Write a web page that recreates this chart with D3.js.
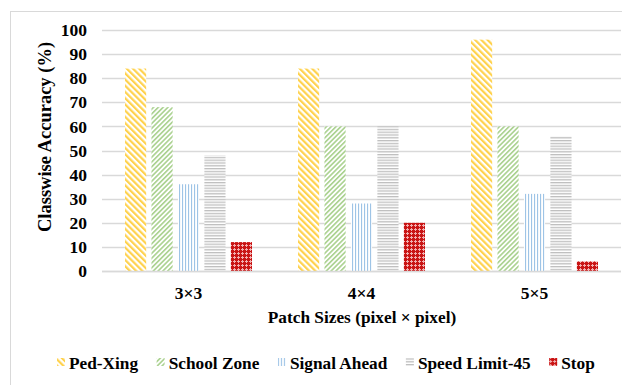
<!DOCTYPE html>
<html>
<head>
<meta charset="utf-8">
<script src="https://cdn.jsdelivr.net/npm/d3@7"></script>
<style>
  html, body { margin: 0; padding: 0; background: #fff; }
</style>
</head>
<body>
<svg id="chart" width="622" height="385"></svg>
<script>
// Patch sizes on the x axis
const categories = ["3×3", "4×4", "5×5"];
// Traffic-sign classes
const seriesNames = ["Ped-Xing", "School Zone", "Signal Ahead", "Speed Limit-45", "Stop"];
// Classwise accuracy (%) per patch size, one array per class
const pedXing = [84, 84, 96];
const schoolZone = [68, 60, 60];
const signalAhead = [36, 28, 32];
const speedLimit45 = [48, 60, 56];
const stop = [12, 20, 4];
const yTicks = [0, 10, 20, 30, 40, 50, 60, 70, 80, 90, 100];

const seriesValues = [pedXing, schoolZone, signalAhead, speedLimit45, stop];
const patternIds = ["p-ped", "p-school", "p-signal", "p-speed", "p-stop"];
const FONT = "'Liberation Serif', 'Times New Roman', serif";

const svg = d3.select("#chart")
  .attr("font-family", FONT).attr("font-weight", "bold");
const defs = svg.append("defs");

// Hatched fills for each class
function stripePattern(id, size, stripe, color, angle) {
  const p = defs.append("pattern")
    .attr("id", id).attr("patternUnits", "userSpaceOnUse")
    .attr("width", size).attr("height", size)
    .attr("patternTransform", `rotate(${angle})`);
  p.append("rect").attr("width", size).attr("height", size).attr("fill", "#fff");
  p.append("rect").attr("width", stripe).attr("height", size).attr("fill", color);
}
stripePattern("p-ped", 4.4, 2.2, "#FFD24D", -45);
stripePattern("p-school", 3.4, 1.6, "#A9D18E", 45);
stripePattern("p-signal", 3.0, 1.1, "#9DC3E6", 0);
stripePattern("p-speed", 2.8, 1.3, "#BFBFBF", 90);
(function () {
  const p = defs.append("pattern")
    .attr("id", "p-stop").attr("patternUnits", "userSpaceOnUse")
    .attr("width", 4).attr("height", 4);
  p.append("rect").attr("width", 4).attr("height", 4).attr("fill", "#C91414");
  p.append("rect").attr("x", 1).attr("y", 0).attr("width", 1).attr("height", 3).attr("fill", "#f2b0b0");
  p.append("rect").attr("x", 0).attr("y", 1).attr("width", 3).attr("height", 1).attr("fill", "#f2b0b0");
})();

// Chart frame
svg.append("rect")
  .attr("x", 10.5).attr("y", 11.5).attr("width", 700).attr("height", 500)
  .attr("fill", "none").attr("stroke", "#d9d9d9").attr("stroke-width", 1);

const plot = { left: 102, right: 621, top: 30, bottom: 271 };

const x0 = d3.scaleBand().domain(categories)
  .range([plot.left, plot.right]).paddingInner(0.266).paddingOuter(0.133);
const x1 = d3.scaleBand().domain(seriesNames)
  .range([0, x0.bandwidth()]).paddingInner(0.2).paddingOuter(0);
const y = d3.scaleLinear().domain([0, 100]).range([plot.bottom, plot.top]);

// Gridlines
svg.append("g").selectAll("line").data(yTicks).join("line")
  .attr("x1", plot.left).attr("x2", plot.right)
  .attr("y1", d => Math.round(y(d)) + 0.5).attr("y2", d => Math.round(y(d)) + 0.5)
  .attr("stroke", "#d9d9d9").attr("stroke-width", 1.3);

// Y axis labels
const yAxis = d3.axisLeft(y).tickValues(yTicks).tickSize(0).tickPadding(15);
const yg = svg.append("g").attr("transform", `translate(${plot.left},0)`).call(yAxis)
  .attr("font-family", FONT).attr("font-size", 17.5);
yg.select(".domain").remove();
yg.selectAll("text").attr("fill", "#000");

// Bars
const groups = svg.append("g").selectAll("g").data(categories).join("g")
  .attr("transform", d => `translate(${x0(d)},0)`);
groups.selectAll("rect")
  .data((c, ci) => seriesNames.map((s, si) => ({ s, si, v: seriesValues[si][ci] })))
  .join("rect")
  .attr("x", d => x1(d.s))
  .attr("y", d => y(d.v))
  .attr("width", x1.bandwidth())
  .attr("height", d => y(0) - y(d.v))
  .attr("fill", d => `url(#${patternIds[d.si]})`);

// Baseline
svg.append("line")
  .attr("x1", plot.left).attr("x2", plot.right)
  .attr("y1", y(0) + 0.5).attr("y2", y(0) + 0.5)
  .attr("stroke", "#d9d9d9").attr("stroke-width", 1.3);

// X axis labels
const xAxis = d3.axisBottom(x0).tickSize(0).tickPadding(16);
const xg = svg.append("g").attr("transform", `translate(0,${plot.bottom})`).call(xAxis)
  .attr("font-family", FONT).attr("font-size", 17.5);
xg.select(".domain").remove();
xg.selectAll("text").attr("fill", "#000");

// Axis titles
svg.append("text")
  .attr("x", 362).attr("y", 323)
  .attr("text-anchor", "middle").attr("font-size", 17.3)
  .text("Patch Sizes (pixel × pixel)");
svg.append("text")
  .attr("transform", "translate(51,137) rotate(-90)")
  .attr("text-anchor", "middle").attr("font-size", 18.5)
  .text("Classwise Accuracy (%)");

// Legend
const legend = svg.append("g");
let lx = 57;
seriesNames.forEach((name, i) => {
  const item = legend.append("g").attr("transform", `translate(${lx},0)`);
  item.append("rect").attr("x", 0).attr("y", 358).attr("width", 8).attr("height", 8)
    .attr("fill", `url(#${patternIds[i]})`);
  const t = item.append("text").attr("x", 12).attr("y", 369)
    .attr("font-size", 17.3).text(name);
  lx += 12 + t.node().getComputedTextLength() + 18.5;
});
</script>
</body>
</html>
